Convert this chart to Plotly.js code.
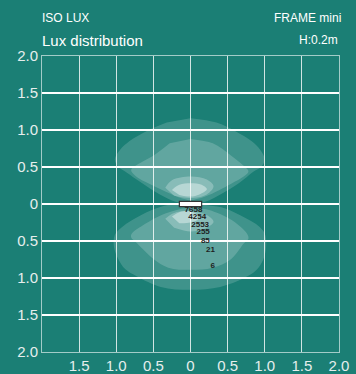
<!DOCTYPE html>
<html>
<head>
<meta charset="utf-8">
<script src="https://cdn.plot.ly/plotly-3.0.1.min.js"></script>
<style>html,body{margin:0;padding:0;background:#1b7f75;}#chart{width:356px;height:374px;}</style>
</head>
<body>
<div id="chart"></div>
<script>
// Iso-lux contour outlines (metres)
const upperOuterX = [0, 0.35, 0.63, 0.82, 0.94, 1.0, 0.95, 0.85, 0.65, 0.42, 0.2, 0, -0.2, -0.43, -0.65, -0.88, -0.97, -1.02, -0.95, -0.82, -0.6, -0.32];
const upperOuterY = [1.16, 1.1, 0.97, 0.85, 0.73, 0.6, 0.5, 0.44, 0.28, 0.14, 0.03, 0.0, 0.03, 0.14, 0.28, 0.44, 0.5, 0.6, 0.73, 0.85, 0.98, 1.1];
const upperMidX = [0, 0.3, 0.54, 0.7, 0.78, 0.7, 0.56, 0.29, 0.1, 0, -0.1, -0.34, -0.61, -0.74, -0.8, -0.72, -0.49, -0.28];
const upperMidY = [0.88, 0.82, 0.66, 0.53, 0.44, 0.36, 0.28, 0.14, 0.07, 0.05, 0.07, 0.17, 0.3, 0.38, 0.46, 0.53, 0.66, 0.82];
const upperInnerX = [-0.34, -0.25, 0, 0.22, 0.31, 0.22, 0, -0.22];
const upperInnerY = [0.22, 0.32, 0.37, 0.33, 0.24, 0.13, 0.08, 0.11];
const upperCoreX = [-0.25, -0.15, 0, 0.15, 0.22, 0.12, 0, -0.15];
const upperCoreY = [0.19, 0.26, 0.28, 0.26, 0.2, 0.13, 0.1, 0.12];

const lowerOuterX = [0, 0.25, 0.47, 0.74, 0.92, 1.0, 1.02, 0.98, 0.88, 0.72, 0.4, 0, -0.4, -0.72, -0.88, -0.97, -1.03, -1.02, -0.92, -0.79, -0.52, -0.25];
const lowerOuterY = [0.0, -0.02, -0.06, -0.19, -0.3, -0.4, -0.55, -0.75, -0.9, -1.0, -1.12, -1.16, -1.12, -0.98, -0.88, -0.75, -0.58, -0.42, -0.31, -0.22, -0.08, 0.0];
const lowerMidX = [0.05, 0.25, 0.56, 0.76, 0.78, 0.72, 0.54, 0.3, 0, -0.3, -0.49, -0.72, -0.8, -0.79, -0.56, -0.34, -0.11];
const lowerMidY = [-0.05, -0.08, -0.22, -0.4, -0.47, -0.53, -0.75, -0.86, -0.89, -0.86, -0.75, -0.53, -0.45, -0.4, -0.24, -0.13, -0.06];
const lowerInnerX = [-0.34, -0.22, 0, 0.2, 0.31, 0.2, 0, -0.22];
const lowerInnerY = [-0.2, -0.12, -0.1, -0.14, -0.24, -0.33, -0.37, -0.32];
const lowerCoreX = [-0.25, -0.15, 0, 0.1, 0.11, 0, -0.15];
const lowerCoreY = [-0.17, -0.11, -0.1, -0.15, -0.2, -0.25, -0.26];

// Lux value labels
const luxLabels = ["7658", "4254", "2553", "255", "85", "21", "6"];
const luxX = [0.04, 0.09, 0.13, 0.17, 0.2, 0.27, 0.3];
const luxY = [-0.08, -0.18, -0.28, -0.38, -0.5, -0.62, -0.84];

// Axis ticks
const xTickVals = [-1.5, -1, -0.5, 0, 0.5, 1, 1.5, 2];
const xTickText = ["1.5", "1.0", "0.5", "0", "0.5", "1.0", "1.5", "2.0"];
const yTickVals = [2, 1.5, 1, 0.5, 0, -0.5, -1, -1.5, -2];
const yTickText = ["2.0", "1.5", "1.0", "0.5", "0", "0.5", "1.0", "1.5", "2.0"];

const FONT = "Liberation Sans, Arial, sans-serif";

function region(x, y, alpha) {
  return {
    type: "scatter", mode: "lines", x: x, y: y,
    fill: "toself", fillcolor: "rgba(255,255,255," + alpha + ")",
    line: {width: 0, shape: "spline", smoothing: 1},
    hoverinfo: "skip", showlegend: false
  };
}

const traces = [
  region(upperOuterX, upperOuterY, 0.16),
  region(upperMidX, upperMidY, 0.18),
  region(upperInnerX, upperInnerY, 0.25),
  region(upperCoreX, upperCoreY, 0.4),
  region(lowerOuterX, lowerOuterY, 0.16),
  region(lowerMidX, lowerMidY, 0.18),
  region(lowerInnerX, lowerInnerY, 0.25),
  region(lowerCoreX, lowerCoreY, 0.4),
  {
    type: "scatter", mode: "text", x: luxX, y: luxY, text: luxLabels,
    textposition: "middle center",
    textfont: {family: FONT, size: 8, color: "#1e1e1e", weight: "bold"},
    hoverinfo: "skip", showlegend: false
  }
];

const layout = {
  width: 356, height: 374,
  paper_bgcolor: "#1b7f75", plot_bgcolor: "#1b7f75",
  margin: {l: 42, r: 17, t: 56, b: 22, pad: 0},
  font: {family: FONT, color: "#e6eeed"},
  showlegend: false,
  xaxis: {
    range: [-2, 2], tickvals: xTickVals, ticktext: xTickText,
    showgrid: true, gridcolor: "rgba(255,255,255,0.8)", gridwidth: 1.2,
    zeroline: false, showline: true, mirror: true, linecolor: "rgba(255,255,255,0.6)", linewidth: 1,
    ticks: "", tickfont: {family: FONT, size: 15, color: "#e6eeed"}, fixedrange: true
  },
  yaxis: {
    range: [-2, 2], tickvals: yTickVals, ticktext: yTickText,
    showgrid: true, gridcolor: "#ffffff", gridwidth: 1.5,
    zeroline: false, showline: true, mirror: true, linecolor: "rgba(255,255,255,0.6)", linewidth: 1,
    ticks: "", tickfont: {family: FONT, size: 15, color: "#e6eeed"}, fixedrange: true
  },
  shapes: [{
    type: "rect", xref: "x", yref: "y", x0: -0.15, x1: 0.15, y0: -0.036, y1: 0.036,
    fillcolor: "#ffffff", line: {color: "#333333", width: 1.2}, layer: "above"
  }],
  annotations: [
    {text: "ISO LUX", xref: "paper", yref: "paper", x: -0.006, y: 1.1267, xanchor: "left", yanchor: "middle", showarrow: false, font: {family: FONT, size: 12, color: "#ffffff"}},
    {text: "Lux distribution", xref: "paper", yref: "paper", x: -0.006, y: 1.0515, xanchor: "left", yanchor: "middle", showarrow: false, font: {family: FONT, size: 15, color: "#ffffff"}},
    {text: "FRAME mini", xref: "paper", yref: "paper", x: 1.012, y: 1.1267, xanchor: "right", yanchor: "middle", showarrow: false, font: {family: FONT, size: 12, color: "#ffffff"}},
    {text: "H:0.2m", xref: "paper", yref: "paper", x: 1.003, y: 1.0538, xanchor: "right", yanchor: "middle", showarrow: false, font: {family: FONT, size: 12, color: "#ffffff"}}
  ]
};

Plotly.newPlot("chart", traces, layout, {staticPlot: true, displayModeBar: false});
</script>
</body>
</html>
